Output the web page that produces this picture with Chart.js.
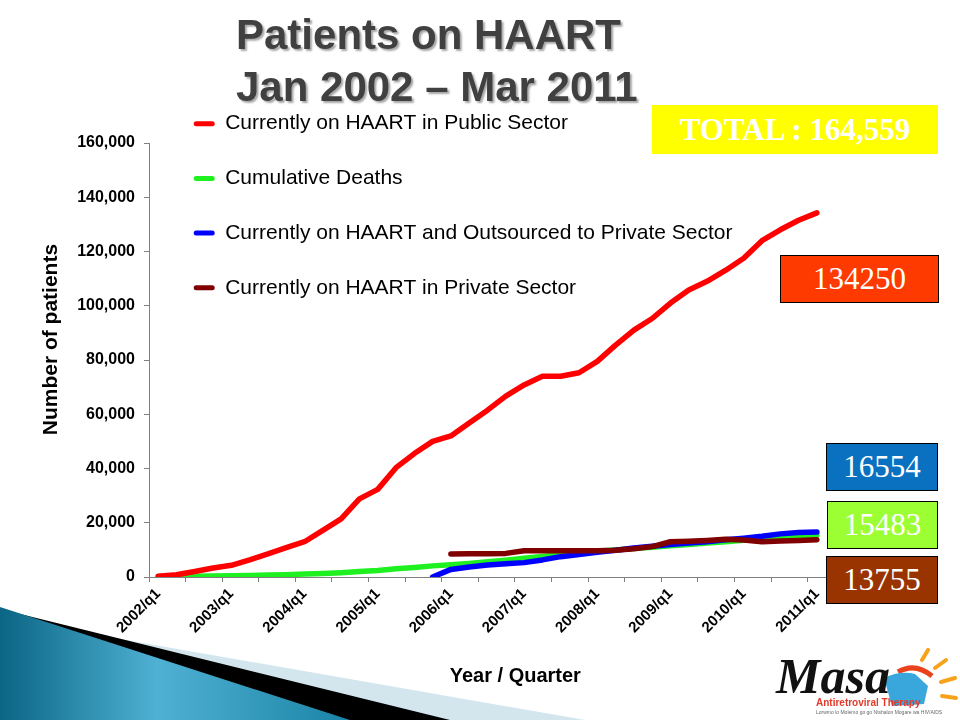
<!DOCTYPE html>
<html>
<head>
<meta charset="utf-8">
<script src="https://cdn.jsdelivr.net/npm/chart.js@4.4.0/dist/chart.umd.min.js"></script>
<style>
html,body{margin:0;padding:0;background:#fff;}
#wrap{position:relative;width:960px;height:720px;overflow:hidden;background:#fff;}
#c{position:absolute;left:0;top:0;}
svg{position:absolute;left:0;top:0;}
.t{position:absolute;left:236px;font-family:"Liberation Sans",Arial,sans-serif;font-weight:bold;font-size:42px;line-height:52px;color:#404040;text-shadow:2px 2px 2px rgba(0,0,0,0.35);white-space:nowrap;}
.box{position:absolute;box-sizing:border-box;display:flex;align-items:center;justify-content:center;font-family:"Liberation Serif","Times New Roman",serif;color:#fff;white-space:nowrap;font-size:31px;}
</style>
</head>
<body>
<div id="wrap">
<svg width="960" height="720" viewBox="0 0 960 720">
  <defs>
    <linearGradient id="gb" x1="0" y1="0" x2="1" y2="0">
      <stop offset="0" stop-color="#0b6584"/>
      <stop offset="0.45" stop-color="#4fb1d4"/>
      <stop offset="1" stop-color="#1a84a6"/>
    </linearGradient>
  </defs>
  <polygon points="0,618 585,720 0,720" fill="#d3e6ee"/>
  <polygon points="0,609 450,720 0,720" fill="#000"/>
  <polygon points="0,607 350,720 0,720" fill="url(#gb)"/>
</svg>
<canvas id="c" width="960" height="720"></canvas>
<div class="t" style="top:9px">Patients on HAART</div>
<div class="t" style="top:61px">Jan 2002 – Mar 2011</div>
<div class="box" style="left:652px;top:105px;width:286px;height:49px;background:#ffff00;font-weight:bold;">TOTAL : 164,559</div>
<div class="box" style="left:780px;top:255px;width:159px;height:48px;background:#ff3a00;border:1px solid #000;">134250</div>
<div class="box" style="left:826px;top:443px;width:112px;height:48px;background:#0a70c0;border:1px solid #000;">16554</div>
<div class="box" style="left:827px;top:501px;width:111px;height:48px;background:#9cff33;border:1px solid #000;">15483</div>
<div class="box" style="left:826px;top:556px;width:112px;height:48px;background:#993300;border:1px solid #000;">13755</div>
<svg width="960" height="720" viewBox="0 0 960 720">
  <g stroke="#f7a21b" stroke-width="4" stroke-linecap="round">
    <line x1="922" y1="660" x2="928" y2="650"/>
    <line x1="935" y1="668" x2="946" y2="660"/>
    <line x1="941" y1="682" x2="955" y2="678"/>
    <line x1="942" y1="696" x2="956" y2="698"/>
  </g>
  <path d="M898,672 Q915,662 932,676" fill="none" stroke="#e8431c" stroke-width="5"/>
  <path d="M884,678 Q900,670 915,674 L928,686 L924,704 L892,706 Z" fill="#3aa7dc"/>
  <text x="776" y="693" font-family="Liberation Serif" font-style="italic" font-weight="bold" font-size="50" fill="#111">Masa</text>
  <text x="816" y="706" font-family="Liberation Sans Narrow, Liberation Sans" font-weight="bold" font-size="10" fill="#e23a2a">Antiretroviral Therapy</text>
  <text x="816" y="714" font-family="Liberation Sans" font-size="5" fill="#666">Lorwmo lo Molemo go go Ntshalon Mogare wa HIV/AIDS</text>
</svg>
</div>
<script>
// ---- data ----
const years = [2002, 2003, 2004, 2005, 2006, 2007, 2008, 2009, 2010, 2011];
const quarters = ['q1', 'q2', 'q3', 'q4'];
const categories = [];
years.forEach(y => quarters.forEach(q => { if (y < 2011 || q === 'q1') categories.push(y + '/' + q); }));

const seriesNames = [
  'Currently on HAART in Public Sector',
  'Cumulative Deaths',
  'Currently on HAART and Outsourced to Private Sector',
  'Currently on HAART in Private Sector'
];

const publicSector = [300, 800, 2000, 3300, 4300, 6300, 8500, 10800, 13000, 17200,
  21400, 28800, 32300, 40300, 45500, 50000, 52000, 56800, 61500, 66700,
  70800, 74000, 74000, 75300, 79500, 85500, 91000, 95300, 101000, 105800,
  109000, 113000, 117500, 124000, 128000, 131500, 134250];

const cumulativeDeaths = [200, 250, 300, 350, 450, 550, 700, 850, 1100, 1300,
  1600, 2000, 2400, 3000, 3500, 4100, 4500, 5000, 5600, 6200,
  6900, 7600, 8300, 8900, 9500, 10000, 10500, 11000, 11500, 12000,
  12500, 13000, 13500, 14100, 14600, 15100, 15483];

const outsourced = [null, null, null, null, null, null, null, null, null, null,
  null, null, null, null, null, 0, 2800, 3700, 4400, 4900,
  5300, 6300, 7500, 8300, 9100, 9900, 10700, 11300, 12000, 12500,
  13000, 13700, 14300, 15000, 15900, 16400, 16554];

const privateSector = [null, null, null, null, null, null, null, null, null, null,
  null, null, null, null, null, null, 8500, 8600, 8600, 8700,
  9700, 9700, 9700, 9700, 9700, 9900, 10400, 11200, 13000, 13200,
  13500, 13900, 13600, 13000, 13300, 13500, 13755];

const yTicks = [0, 20000, 40000, 60000, 80000, 100000, 120000, 140000, 160000];

const seriesColors = ['#ff0000', '#1ff01f', '#0000ff', '#800000'];

// ---- chart ----
const FONT = '"Liberation Sans", Arial, sans-serif';

const legendPlace = {
  id: 'legendPlace',
  afterLayout(chart) {
    const lg = chart.legend;
    if (!lg) return;
    const w = lg.width;
    lg.left = 160;
    lg.top = 79.5;
    lg.right = lg.left + w;
    lg.bottom = lg.top + 400;
  }
};

new Chart(document.getElementById('c'), {
  type: 'line',
  data: {
    labels: categories,
    datasets: [
      { label: seriesNames[0], data: publicSector, borderColor: seriesColors[0], backgroundColor: seriesColors[0], order: 0 },
      { label: seriesNames[1], data: cumulativeDeaths, borderColor: seriesColors[1], backgroundColor: seriesColors[1], order: 3 },
      { label: seriesNames[2], data: outsourced, borderColor: seriesColors[2], backgroundColor: seriesColors[2], order: 2 },
      { label: seriesNames[3], data: privateSector, borderColor: seriesColors[3], backgroundColor: seriesColors[3], order: 1 }
    ]
  },
  options: {
    responsive: false,
    animation: false,
    layout: { padding: { left: 0, top: 143, right: 134, bottom: 32 } },
    elements: {
      line: { borderWidth: 5.5, tension: 0, borderCapStyle: 'round', borderJoinStyle: 'round', fill: false },
      point: { radius: 0, hoverRadius: 0, hitRadius: 0 }
    },
    plugins: {
      tooltip: { enabled: false },
      legend: {
        position: 'chartArea',
        align: 'start',
        labels: {
          color: '#000',
          font: { family: FONT, size: 21 },
          boxWidth: 21,
          boxHeight: 5,
          padding: 33.7,
          useBorderRadius: true,
          borderRadius: 2.5,
          sort: (a, b) => a.datasetIndex - b.datasetIndex,
          generateLabels(chart) {
            const items = Chart.defaults.plugins.legend.labels.generateLabels(chart);
            items.forEach(it => { it.fillStyle = it.strokeStyle; it.lineWidth = 0; });
            return items;
          }
        }
      }
    },
    scales: {
      x: {
        offset: true,
        grid: {
          offset: true,
          drawOnChartArea: false,
          tickLength: 5,
          tickWidth: 1,
          tickColor: c => (c.index % 2 === 0 ? '#808080' : 'rgba(0,0,0,0)')
        },
        border: { display: true, color: '#808080', width: 1 },
        ticks: {
          autoSkip: false,
          maxRotation: 45,
          minRotation: 45,
          padding: 3,
          color: '#000',
          font: { family: FONT, size: 15, weight: 'bold' },
          callback(v, i) { return i % 4 === 0 ? this.getLabelForValue(v) : ''; }
        },
        title: {
          display: true,
          text: '          Year / Quarter',
          color: '#000',
          font: { family: FONT, size: 20, weight: 'bold' },
          padding: { top: 0, bottom: 0 }
        },
        afterFit(s) { s.height = 111; }
      },
      y: {
        min: yTicks[0],
        max: yTicks[yTicks.length - 1],
        grid: { drawOnChartArea: false, tickLength: 5, color: '#808080' },
        border: { display: true, color: '#808080', width: 1 },
        ticks: {
          stepSize: yTicks[1] - yTicks[0],
          padding: 9,
          color: '#000',
          font: { family: FONT, size: 16, weight: 'bold' },
          callback: v => v.toLocaleString('en-US')
        },
        title: {
          display: true,
          text: '       Number of patients',
          color: '#000',
          font: { family: FONT, size: 21, weight: 'bold' },
          padding: { top: 39, bottom: 0 }
        },
        afterFit(s) { s.width = 149; }
      }
    }
  },
  plugins: [legendPlace]
});
</script>
</body>
</html>
